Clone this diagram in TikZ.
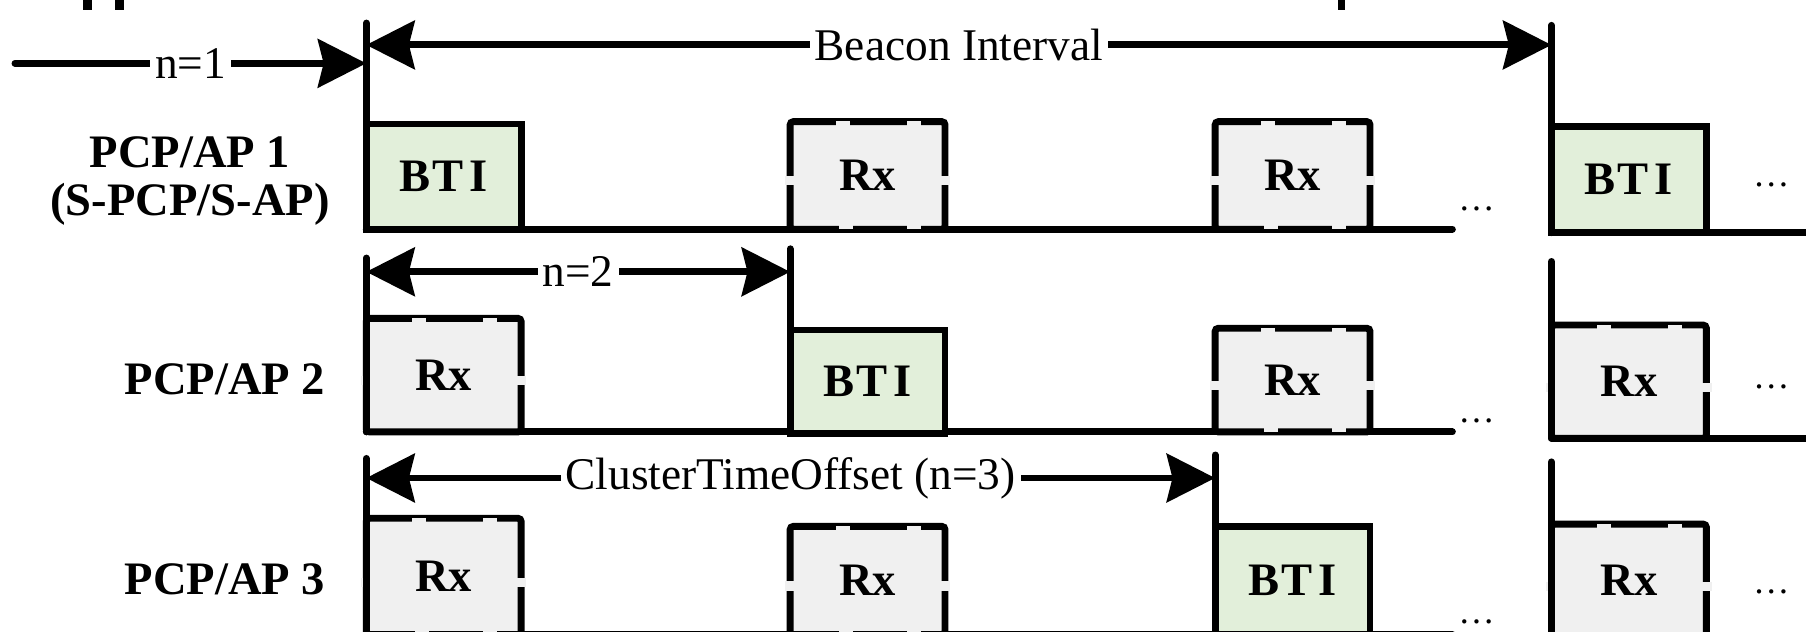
\documentclass[tikz,border=0pt]{standalone}
\usepackage{fontspec}
\setmainfont{Liberation Serif}
\usetikzlibrary{arrows.meta,positioning,calc}
\usepackage{xcolor}
\definecolor{btigreen}{RGB}{226,239,218}
\definecolor{rxgray}{RGB}{240,240,240}
\tikzset{
  tl/.style={line width=1.7pt,line cap=round},
  slot/.style={tl,draw,minimum width=13.45mm,inner sep=0pt,outer sep=0pt,
               anchor=south west,font=\fontsize{11.5}{13}\selectfont\bfseries},
  bti/.style={slot,fill=btigreen},
  rx/.style={slot,fill=rxgray,rounded corners=.8pt},
  notch/.style={rxgray,line width=1.5pt},
  snotch/.style={rxgray,line width=2.6pt},
  lbl/.style={fill=white,inner sep=1.2pt,font=\fontsize{11.2}{13}\selectfont},
  ap/.style={font=\fontsize{11.5}{12}\selectfont\bfseries,align=center,inner sep=0pt},
  more/.style={anchor=base,inner sep=0pt,font=\fontsize{9}{10}\selectfont},
  >={Stealth[length=4.2mm,width=4.2mm,inset=.5mm]}
}
% small breaks in the Rx outlines
\newcommand\rxframe[1]{%
  \foreach \p in {.34,.8}
    \draw[notch] ($(#1.north west)!\p!(#1.north east)+(-6,2.5)$) -- ++(12,0);
  \draw[snotch] ($(#1.north west)!.55!(#1.south west)+(0,-4)$) -- ++(0,8);
  \draw[snotch] ($(#1.north east)!.55!(#1.south east)+(0,-4)$) -- ++(0,8);}
\newcommand\rxfoot[1]{%
  \foreach \p in {.36,.8}
    \draw[notch] ($(#1.south west)!\p!(#1.south east)+(-6,-2.5)$) -- ++(12,0);}

\begin{document}
\begin{tikzpicture}[x=0.1mm,y=-0.1mm]
  \useasboundingbox (0,0) rectangle (1568,548);
  \clip (0,0) rectangle (1568,548);

  % bits of the figure above
  \draw[line width=2.2pt] (76,0) -- (76,9) (104,0) -- (104,9);
  \draw[line width=1.7pt] (1165,0) -- (1165,9);

  % time axes
  \draw[tl] (318,199) -- (1261,199);
  \draw[tl] (1347,202) -- (1600,202);
  \draw[tl] (318,375) -- (1261,375);
  \draw[tl] (1347,380.5) -- (1600,380.5);
  \draw[tl] (318,551) -- (1261,551);
  \draw[tl] (1347,553) -- (1600,553);

  % PCP/AP 1
  \node[bti,minimum height=9.13mm] (b1) at (318,199) {B\kern.4pt T\kern1.6pt I};
  \node[rx,minimum height=9.34mm] (r12) at (686,199) {Rx};
  \node[rx,minimum height=9.34mm] (r13) at (1055,199) {Rx};
  \node[bti,minimum height=9.2mm] (b1n) at (1347,202) {B\kern.4pt T\kern1.6pt I};

  % PCP/AP 2
  \node[rx,minimum height=9.86mm] (r21) at (318,375) {Rx};
  \node[bti,minimum height=8.95mm] (b2) at (686,376) {B\kern.4pt T\kern1.6pt I};
  \node[rx,minimum height=9.0mm] (r23) at (1055,375) {Rx};
  \node[rx,minimum height=9.83mm] (r2n) at (1347,380.5) {Rx};

  % PCP/AP 3
  \node[rx,minimum height=10.1mm] (r31) at (318,551) {Rx};
  \node[rx,minimum height=9.4mm] (r32) at (686,551) {Rx};
  \node[bti,minimum height=9.4mm] (b3) at (1055,551) {B\kern.4pt T\kern1.6pt I};
  \node[rx,minimum height=9.8mm] (r3n) at (1347,553) {Rx};

  \foreach \r in {r12,r13,r21,r23,r2n,r31,r32,r3n} {\rxframe{\r}}
  \foreach \r in {r12,r13,r23,r31,r32,r3n} {\rxfoot{\r}}

  % beacon start markers
  \draw[tl] (318,20) -- (318,199);
  \draw[tl] (1347,22) -- (1347,202);
  \draw[tl] (318,224) -- (318,375);
  \draw[tl] (686,216) -- (686,376);
  \draw[tl] (1347,227) -- (1347,380.5);
  \draw[tl] (318,398) -- (318,551);
  \draw[tl] (1055,395) -- (1055,551);
  \draw[tl] (1347,401) -- (1347,553);

  \coordinate (n1s) at (13,55);
  \coordinate (n1e) at (318,55);
  \coordinate (bis) at (318,39);
  \coordinate (bie) at (1347,39);
  \coordinate (n2s) at (318,236);
  \coordinate (n2e) at (686,236);
  \coordinate (n3s) at (318,415);
  \coordinate (n3e) at (1055,415);

  \draw[tl,->] (n1s) -- (n1e) node[midway,lbl] {n=1};
  \draw[tl,<->] (bis) -- (bie) node[midway,lbl] {Beacon Interval};
  \draw[tl,<->] (n2s) -- (n2e) node[midway,lbl] {n=2};
  \draw[tl,<->] (n3s) -- (n3e) node[midway,lbl] {ClusterTimeOffset (n=3)};

  % row names
  \node[ap] (ap1) at (165,157) {PCP/AP 1\\(S-PCP/S-AP)};
  \node[ap,anchor=east] (ap2) at (283,329) {PCP/AP 2};
  \node[ap,anchor=east] (ap3) at (283,503) {PCP/AP 3};

  % continuation dots
  \node[more] (d1) at (1282,183) {…};
  \node[more] (d1n) at (1538,162) {…};
  \node[more] (d2) at (1282,367) {…};
  \node[more] (d2n) at (1538,337) {…};
  \node[more] (d3) at (1282,541) {…};
  \node[more] (d3n) at (1538,515) {…};
\end{tikzpicture}
\end{document}
